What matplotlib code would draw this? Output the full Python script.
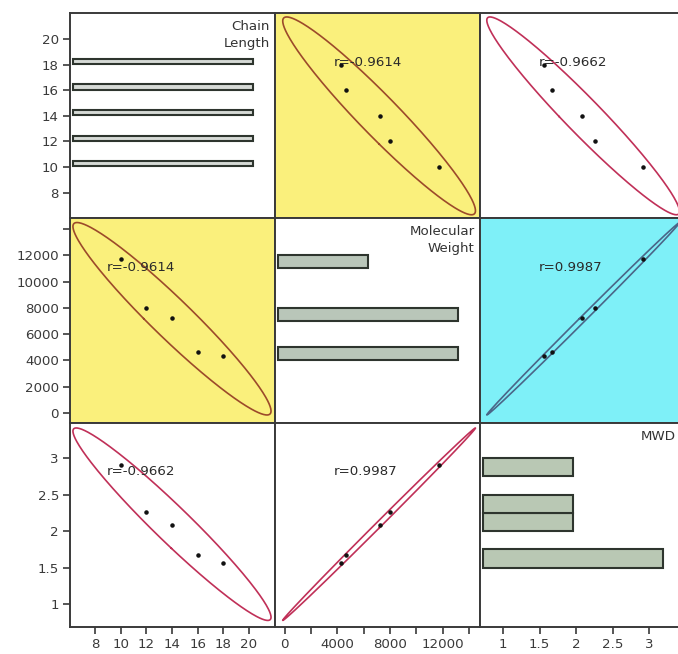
import numpy as np
import matplotlib
matplotlib.use("Agg")
import matplotlib.pyplot as plt

# ---- data ----
variables = ["Chain\nLength", "Molecular\nWeight", "MWD"]
chain_length = [10, 12, 14, 16, 18]
molecular_weight = [11700, 7980, 7200, 4650, 4300]
mwd = [2.91, 2.26, 2.08, 1.67, 1.56]
r_labels = {(0, 1): "r=-0.9614", (1, 0): "r=-0.9614",
            (0, 2): "r=-0.9662", (2, 0): "r=-0.9662",
            (1, 2): "r=0.9987", (2, 1): "r=0.9987"}
panel_bg = {(0, 1): "#FAF07C", (1, 0): "#FAF07C", (1, 2): "#7EF0F8"}
ellipse_col = {(0, 1): "#9C4A2A", (1, 0): "#9C4A2A", (1, 2): "#4A6688"}

axis_limits = [(6.03, 22.05), (-740, 14830), (0.686, 3.488)]
tick_sets = [[8, 10, 12, 14, 16, 18, 20],
             [0, 2000, 4000, 6000, 8000, 10000, 12000, 14000],
             [1, 1.5, 2, 2.5, 3]]
xtick_labels = [["8", "10", "12", "14", "16", "18", "20"],
                ["0", "", "4000", "", "8000", "", "12000", ""],
                ["1", "1.5", "2", "2.5", "3"]]
ytick_labels = [["8", "10", "12", "14", "16", "18", "20"],
                ["0", "2000", "4000", "6000", "8000", "10000", "12000", ""],
                ["1", "1.5", "2", "2.5", "3"]]
hist_bins = [np.arange(6, 22.51, 0.5), np.arange(-1000, 15001, 1000), np.arange(0.5, 3.76, 0.25)]
bar_colors = ["#D6DAD6", "#B9C6B9", "#B9C8B4"]
bar_fill = [0.85, 1.0, 1.0]

data = [np.array(chain_length, float), np.array(molecular_weight, float), np.array(mwd, float)]

W, H = 678, 654
fig = plt.figure(figsize=(W / 100, H / 100), dpi=100)
fig.patch.set_facecolor("white")

col_left = [70, 275, 480]
row_top = [13, 218, 422.5]
pw, ph = 205, 204.7

plt.rcParams["font.family"] = "DejaVu Sans"
fs = 9.6
tick_col = "#3A3A3A"


def style_ticks(a):
    a.tick_params(direction="out", length=5, width=1.2, colors="#3A3A3A",
                  labelsize=fs, labelcolor=tick_col, pad=3)


for i in range(3):      # row -> y variable
    for j in range(3):  # col -> x variable
        rect = [col_left[j] / W, 1 - (row_top[i] + ph) / H, pw / W, ph / H]
        ax = fig.add_axes(rect)
        ax.set_facecolor(panel_bg.get((i, j), "white"))
        for s in ax.spines.values():
            s.set_color("#3A3A3A")
            s.set_linewidth(1.4)
        ax.set_ylim(axis_limits[i])
        if i == j:
            counts, edges = np.histogram(data[i], bins=hist_bins[i])
            cmax = counts.max()
            span = cmax / 0.88
            ax.set_xlim(-0.015 * span, -0.015 * span + span)
            mask = counts > 0
            widths = np.diff(edges)[mask]
            pad = widths * (1 - bar_fill[i]) / 2
            ax.barh(edges[:-1][mask] + pad, counts[mask], height=widths * bar_fill[i],
                    align="edge", color=bar_colors[i], edgecolor="#2E352E", linewidth=1.5)
            tx = 0.955 if i == 2 else 0.975
            ax.text(tx, 0.965, variables[i], transform=ax.transAxes, ha="right", va="top",
                    fontsize=fs, color="#333333", linespacing=1.35)
            ax.set_xticks([])
            if i == 2:
                ax2 = fig.add_axes(rect, frameon=False)
                ax2.patch.set_visible(False)
                ax2.set_xlim(axis_limits[j])
                ax2.set_ylim(0, 1)
                ax2.set_yticks([])
                ax2.set_xticks(tick_sets[j])
                ax2.set_xticklabels(xtick_labels[j])
                style_ticks(ax2)
        else:
            x = data[j]
            y = data[i]
            ax.set_xlim(axis_limits[j])
            mean = np.array([x.mean(), y.mean()])
            cov = np.cov(np.vstack([x, y]))
            vals, vecs = np.linalg.eigh(cov)
            t = np.linspace(0, 2 * np.pi, 300)
            circ = np.vstack([np.cos(t), np.sin(t)])
            pts = vecs @ (np.sqrt(vals * 5.991)[:, None] * circ) + mean[:, None]
            ax.plot(pts[0], pts[1], color=ellipse_col.get((i, j), "#C03058"), lw=1.2)
            ax.scatter(x, y, s=5, color="#111111", zorder=3)
            xt = 0.18 if j == 0 else 0.285
            ax.text(xt, 0.76, r_labels[(i, j)], transform=ax.transAxes, ha="left", va="center",
                    fontsize=fs, color="#2A2A2A")
            if i == 2:
                ax.set_xticks(tick_sets[j])
                ax.set_xticklabels(xtick_labels[j])
            else:
                ax.set_xticks([])
        if j == 0:
            ax.set_yticks(tick_sets[i])
            ax.set_yticklabels(ytick_labels[i])
        else:
            ax.set_yticks([])
        style_ticks(ax)

fig.savefig("out.png", dpi=100, facecolor="white")
